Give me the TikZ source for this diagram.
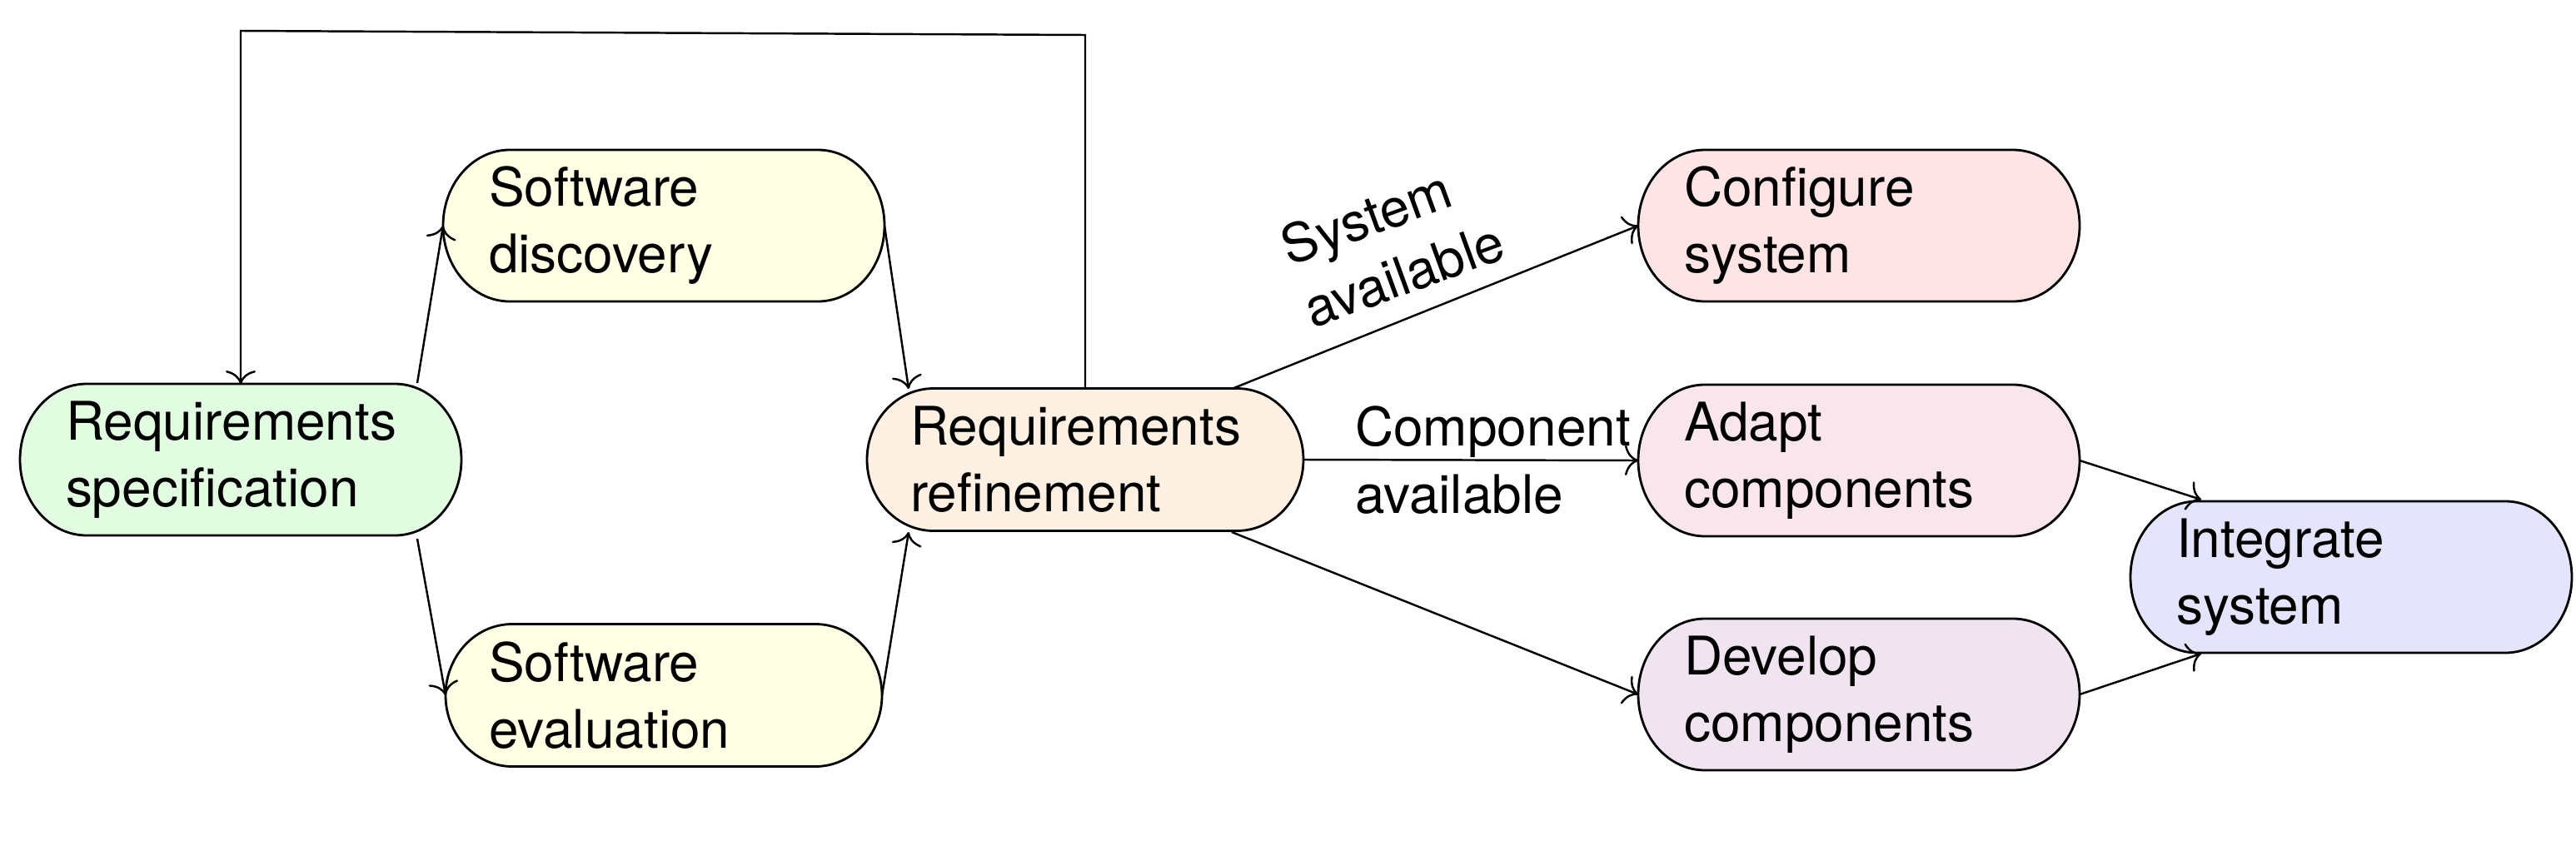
\documentclass[tikz,border=0pt]{standalone}
\usepackage{fontspec}
\setmainfont{TeX Gyre Heros}
\usetikzlibrary{arrows.meta,backgrounds}
\definecolor{cspec}{RGB}{226,252,226}
\definecolor{csoft}{RGB}{255,255,230}
\definecolor{crefine}{RGB}{255,240,228}
\definecolor{cconfig}{RGB}{255,228,230}
\definecolor{cadapt}{RGB}{249,230,236}
\definecolor{cdevelop}{RGB}{240,228,241}
\definecolor{cinteg}{RGB}{228,228,252}
\newcommand{\procfont}{\fontsize{18.2}{22.8}\selectfont}
\newcommand{\stadbox}[3]{%
  \draw[line width=0.8pt, fill=#2]
    ([xshift=0.8cm]#1.north west) -- ([xshift=-0.8cm]#1.north east)
    arc[start angle=90, end angle=-90, x radius=0.8cm, y radius=#3]
    -- ([xshift=0.8cm]#1.south west)
    arc[start angle=270, end angle=90, x radius=0.8cm, y radius=#3] -- cycle;}
\tikzset{
  proc/.style={rectangle, font=\procfont, text width=4.2cm, align=left,
    inner xsep=0.55cm, inner ysep=0pt, outer sep=0pt, minimum height=1.82cm},
  small/.style={inner xsep=0.52cm, minimum height=1.71cm},
  arr/.style={line width=0.7pt, -{Computer Modern Rightarrow[length=1.6mm,width=3.6mm]}},
  lab/.style={font=\procfont, align=left, inner sep=0pt}
}
\begin{document}
\begin{tikzpicture}
\useasboundingbox (0,0) rectangle (30.93,10.09);
\node[proc] (spec) at (2.89,4.57) {Requirements\\specification};
\node[proc] (disc) at (7.97,7.38) {Software\\discovery};
\node[proc, small] (eval) at (7.97,1.74) {Software\\evaluation};
\node[proc, small] (refine) at (13.03,4.57) {Requirements\\refinement};
\node[proc] (config) at (22.32,7.38) {Configure\\system};
\node[proc] (adapt) at (22.32,4.56) {Adapt\\components};
\node[proc] (develop) at (22.32,1.75) {Develop\\components};
\node[proc] (integ) at (28.23,3.16) {Integrate\\system};

\begin{scope}[on background layer]
\stadbox{spec}{cspec}{0.91cm}
\stadbox{disc}{csoft}{0.91cm}
\stadbox{eval}{csoft}{0.855cm}
\stadbox{refine}{crefine}{0.855cm}
\stadbox{config}{cconfig}{0.91cm}
\stadbox{adapt}{cadapt}{0.91cm}
\stadbox{develop}{cdevelop}{0.91cm}
\stadbox{integ}{cinteg}{0.91cm}
\end{scope}

\coordinate (fbR) at (13.03,9.67);
\coordinate (fbL) at (2.89,9.72);

\draw[arr] ([shift={(2.12,0.92)}]spec.center) -- (disc.west);
\draw[arr] ([shift={(2.12,-0.95)}]spec.center) -- (eval.west);
\draw[arr] (disc.east) -- ([shift={(-2.12,0.85)}]refine.center);
\draw[arr] (eval.east) -- ([shift={(-2.12,-0.87)}]refine.center);
\draw[arr] ([shift={(1.76,0.85)}]refine.center) -- (config.west);
\node[lab, rotate=20] (sysav) at (16.72,7.17) {System\\available};
\draw[arr] (refine.east) -- node[lab, pos=0.566] {Component\\available} (adapt.west);
\draw[arr] ([shift={(1.76,-0.87)}]refine.center) -- (develop.west);
\draw[arr] (adapt.east) -- ([shift={(-1.80,0.93)}]integ.center);
\draw[arr] (develop.east) -- ([shift={(-1.80,-0.92)}]integ.center);
\draw[arr] (refine.north) -- (fbR) -- (fbL) -- (spec.north);
\end{tikzpicture}
\end{document}
